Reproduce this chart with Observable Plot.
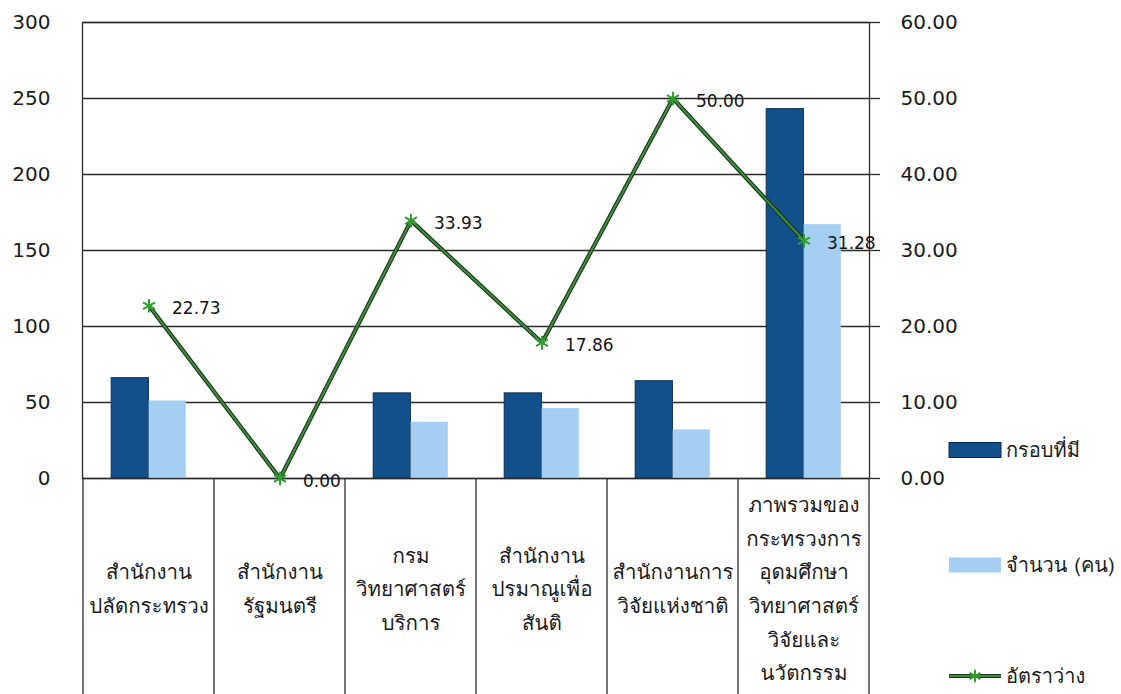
<!DOCTYPE html>
<html>
<head>
<meta charset="utf-8">
<script src="https://cdn.jsdelivr.net/npm/d3@7"></script>
<script src="https://cdn.jsdelivr.net/npm/@observablehq/plot@0.6"></script>
<style>
  html, body { margin: 0; padding: 0; background: #ffffff; }
  #chart { position: relative; width: 1121px; height: 694px; overflow: hidden; }
</style>
</head>
<body>
<div id="chart"></div>
<script>
// ---- data ----
const categories = [
  "สำนักงาน\nปลัดกระทรวง",
  "สำนักงาน\nรัฐมนตรี",
  "กรม\nวิทยาศาสตร์\nบริการ",
  "สำนักงาน\nปรมาณูเพื่อ\nสันติ",
  "สำนักงานการ\nวิจัยแห่งชาติ",
  "ภาพรวมของ\nกระทรวงการ\nอุดมศึกษา\nวิทยาศาสตร์\nวิจัยและ\nนวัตกรรม"
];
const frameCounts = [66, 0, 56, 56, 64, 243];     // กรอบที่มี
const staffCounts = [51, 0, 37, 46, 32, 167];     // จำนวน (คน)
const vacancyRates = [22.73, 0.00, 33.93, 17.86, 50.00, 31.28]; // อัตราว่าง
const seriesNames = ["กรอบที่มี", "จำนวน (คน)", "อัตราว่าง"];
const leftTicks = [0, 50, 100, 150, 200, 250, 300];
const rightTicks = [0, 10, 20, 30, 40, 50, 60];

// ---- build ----
const rows = categories.map((c, i) => ({
  category: c, frame: frameCounts[i], staff: staffCounts[i], rate: vacancyRates[i]
}));
const k = leftTicks[leftTicks.length - 1] / rightTicks[rightTicks.length - 1];
const thaiFont = "Tahoma, Loma, Waree, Garuda, 'Noto Sans Thai Looped', 'Noto Sans Thai', 'Noto Sans', sans-serif";
const numFont = "'DejaVu Sans', Verdana, sans-serif";
const darkBlue = "#11508b";
const lightBlue = "#a4cff3";
const lineDark = "#1d331d";
const lineGreen = "#3b8f3b";
const starGreen = "#2fa02f";
const gridColor = "#2a2a2a";

const W = 1121, H = 694;
const chart = Plot.plot({
  width: W, height: H,
  marginLeft: 82, marginRight: 252, marginTop: 22, marginBottom: 216,
  style: {fontFamily: numFont, fontSize: "20px", color: "#1a1a1a", background: "white", overflow: "visible"},
  x: {domain: categories, padding: 0, axis: null, label: null},
  y: {domain: [0, 300], axis: null, label: null},
  marks: [
    Plot.gridY(leftTicks, {stroke: gridColor, strokeOpacity: 1, strokeWidth: 1.3}),
    Plot.barY(rows, {x: "category", y: "frame", fill: darkBlue, stroke: "#0a2c52", strokeWidth: 1, insetLeft: 28.2, insetRight: 65.6}),
    Plot.barY(rows, {x: "category", y: "staff", fill: lightBlue, insetLeft: 65.6, insetRight: 28.2}),
    Plot.frame({stroke: gridColor, strokeWidth: 1.3}),
    Plot.axisY(leftTicks, {anchor: "left", tickSize: 0, tickPadding: 32, fontSize: 20, fontFamily: numFont, label: null}),
    Plot.axisY(rightTicks.map(t => t * k), {anchor: "right", tickSize: 10, tickPadding: 21, fontSize: 20, fontFamily: numFont,
      tickFormat: d => (d / k).toFixed(2), stroke: gridColor, strokeWidth: 1.3, label: null}),
    Plot.axisX(categories, {anchor: "bottom", tickSize: 0, tickPadding: 107, lineAnchor: "middle", lineHeight: 1.64,
      fontSize: 20.5, fontFamily: thaiFont, tickFormat: d => d, label: null}),
    Plot.line(rows, {x: "category", y: d => d.rate * k, stroke: lineDark, strokeWidth: 4.2}),
    Plot.line(rows, {x: "category", y: d => d.rate * k, stroke: lineGreen, strokeWidth: 2}),
    Plot.dot(rows, {x: "category", y: d => d.rate * k, symbol: "asterisk", r: 6.5, stroke: starGreen, strokeWidth: 2}),
    Plot.text(rows, {x: "category", y: d => d.rate * k, text: d => d.rate.toFixed(2), textAnchor: "start",
      dx: 23, dy: 3, fontSize: 17, fontFamily: numFont, fill: "#111"})
  ]
});

// category cell dividers below the frame, placed with the chart's own x scale
const svg = d3.select(chart);
const xs = chart.scale("x");
const bounds = categories.map(c => xs.apply(c)).concat([xs.apply(categories[categories.length - 1]) + xs.bandwidth]);
const yBottom = H - 216;
svg.append("g").selectAll("line").data(bounds).join("line")
  .attr("x1", d => d).attr("x2", d => d)
  .attr("y1", yBottom).attr("y2", H)
  .attr("stroke", gridColor).attr("stroke-width", 1.3);

// legend on the right
const lg = svg.append("g").attr("font-family", thaiFont).attr("font-size", 20).attr("fill", "#1a1a1a")
  .attr("text-anchor", "start");
const legendX = 949, legendW = 52, textX = 1006;
const legendY = [450, 565, 676];
lg.append("rect").attr("x", legendX).attr("y", legendY[0] - 7.5).attr("width", legendW).attr("height", 15)
  .attr("fill", darkBlue).attr("stroke", "#0a2c52");
lg.append("rect").attr("x", legendX).attr("y", legendY[1] - 7.5).attr("width", legendW).attr("height", 15)
  .attr("fill", lightBlue);
lg.append("line").attr("x1", legendX).attr("x2", legendX + legendW).attr("y1", legendY[2]).attr("y2", legendY[2])
  .attr("stroke", lineDark).attr("stroke-width", 4.2);
lg.append("line").attr("x1", legendX).attr("x2", legendX + legendW).attr("y1", legendY[2]).attr("y2", legendY[2])
  .attr("stroke", lineGreen).attr("stroke-width", 2);
lg.append("path").attr("transform", `translate(${legendX + legendW / 2},${legendY[2]})`)
  .attr("d", d3.symbol(d3.symbolAsterisk, 110)()).attr("stroke", starGreen).attr("stroke-width", 2).attr("fill", "none");
seriesNames.forEach((s, i) => {
  lg.append("text").attr("x", textX).attr("y", legendY[i]).attr("dy", "0.35em").attr("text-anchor", "start").text(s);
});

document.getElementById("chart").appendChild(chart);
</script>
</body>
</html>
